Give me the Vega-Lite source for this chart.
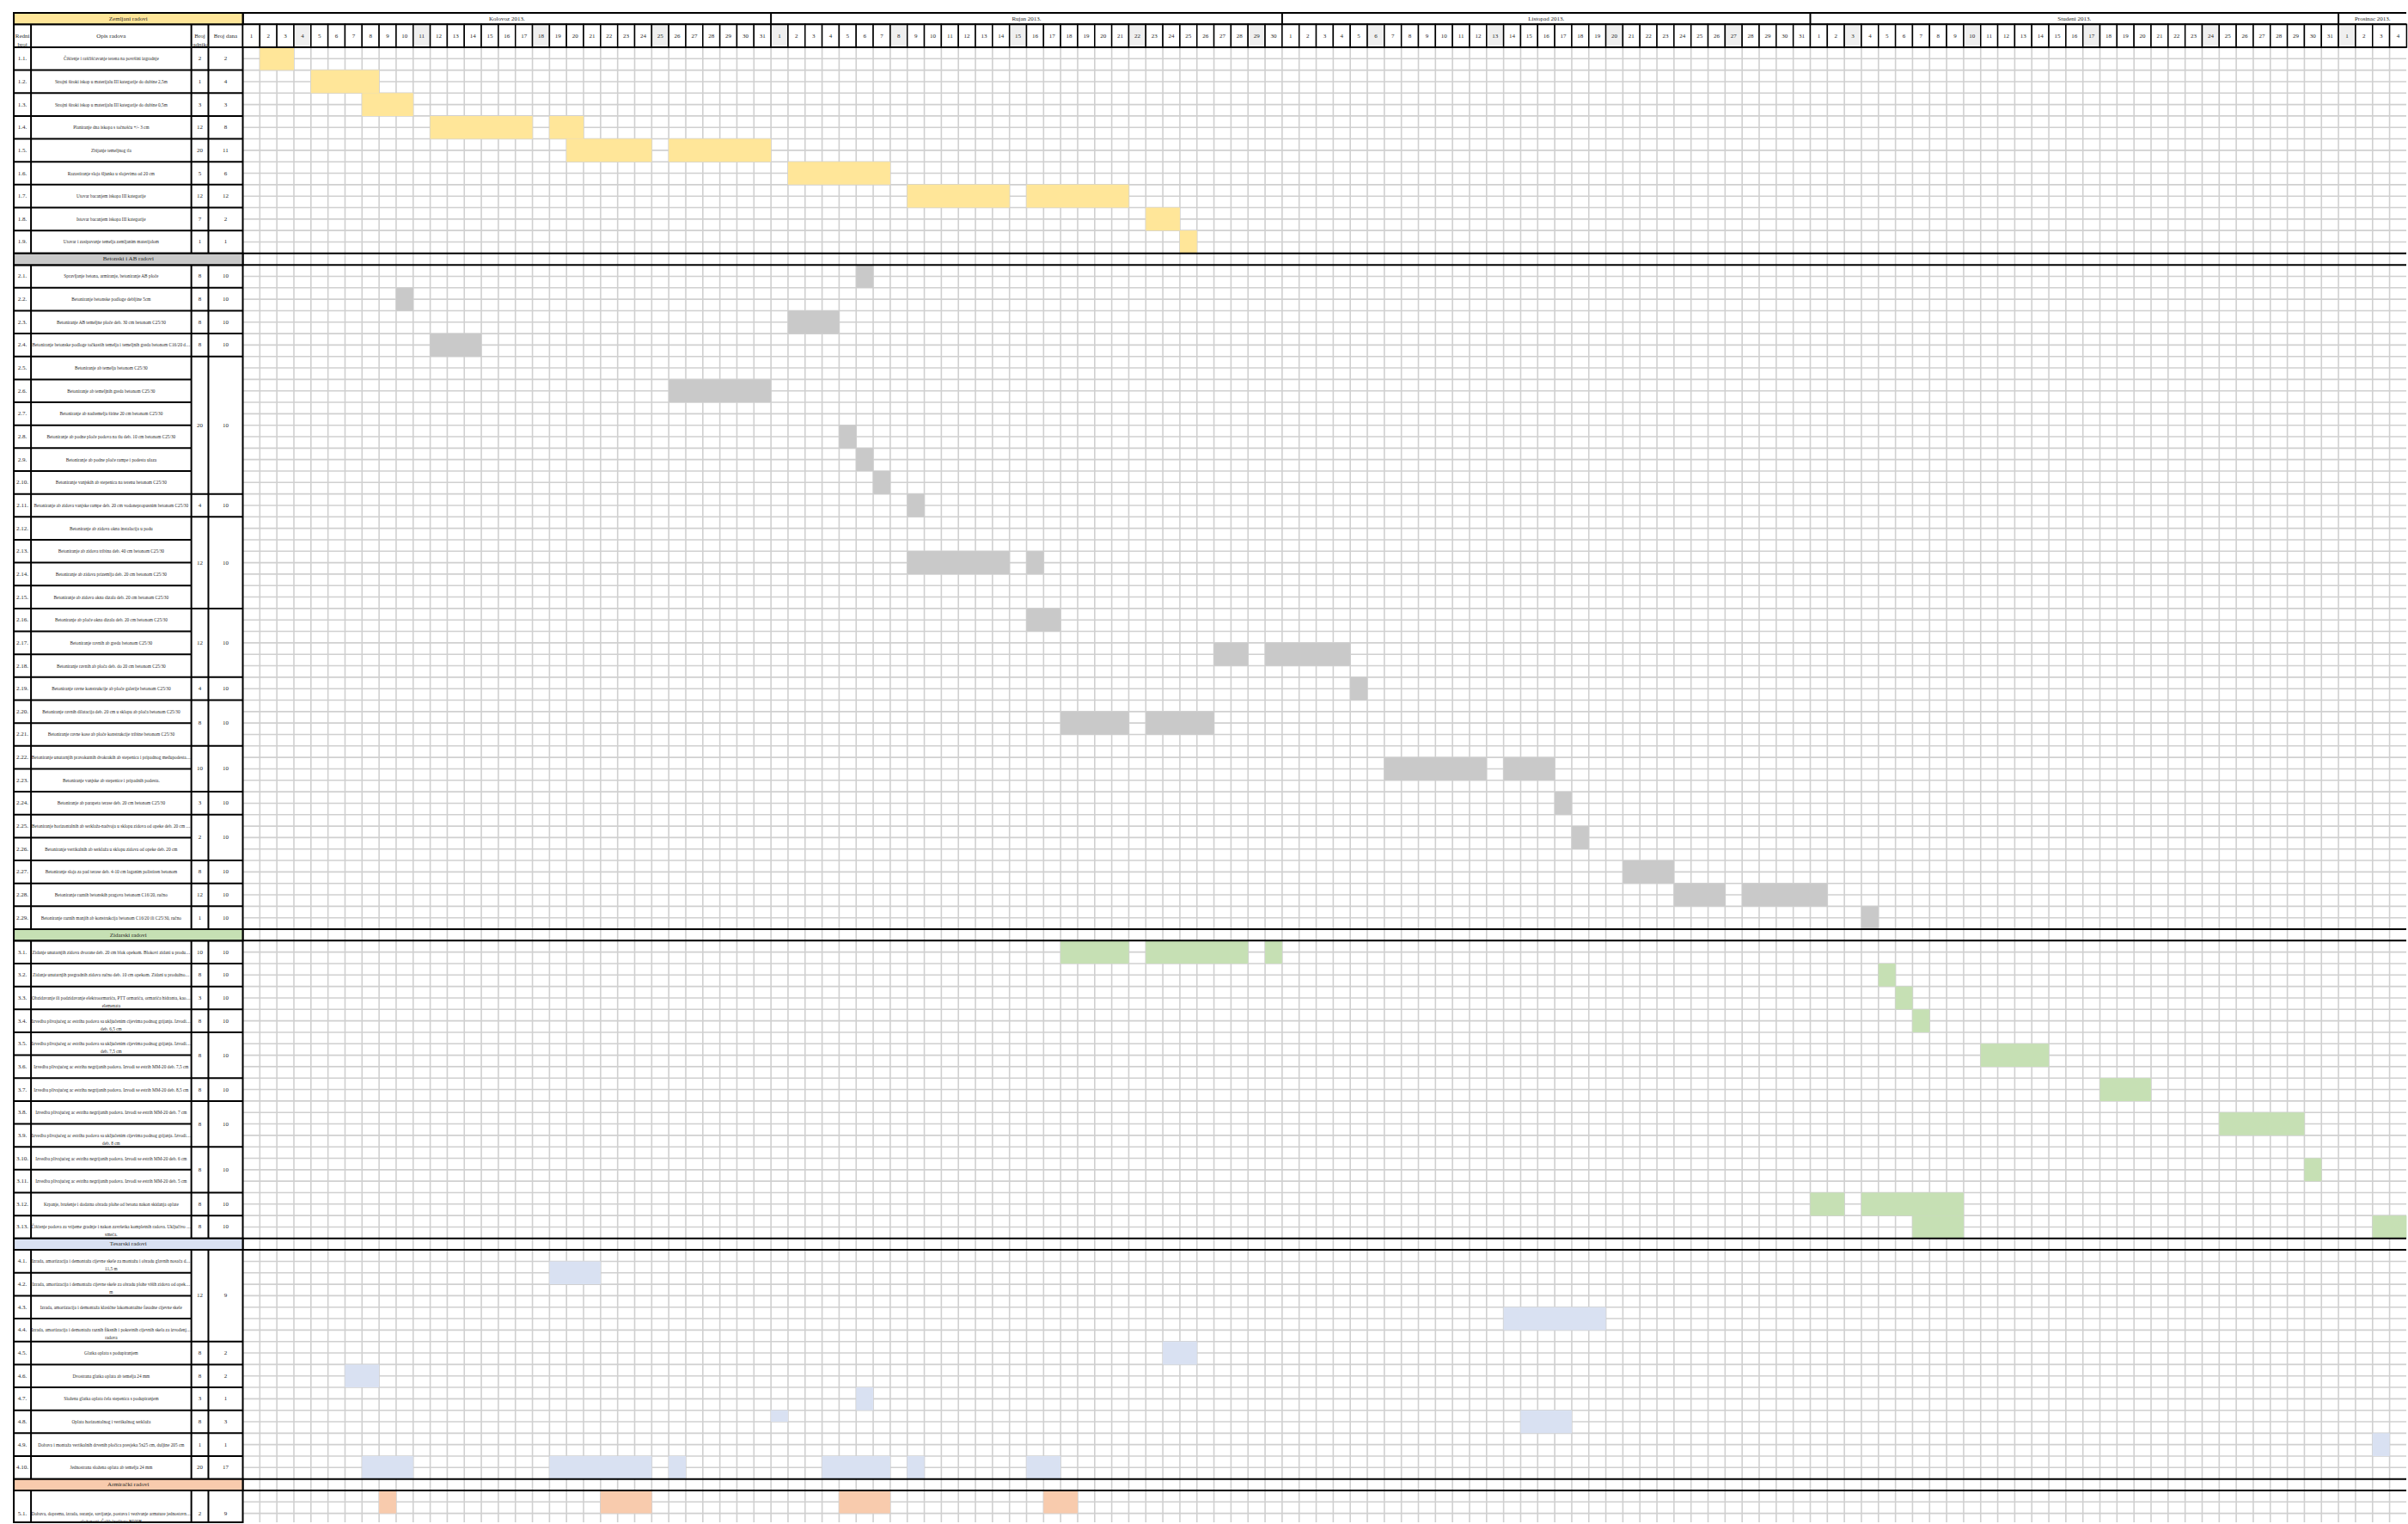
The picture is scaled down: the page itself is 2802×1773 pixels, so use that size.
{
"$schema":"https://vega.github.io/schema/vega-lite/v6.json",
"width":2802,"height":1773,
"autosize":{"type":"fit","contains":"padding"},
"padding":0,
"background":"white",
"config":{"view":{"stroke":null},"axis":{"disable":true},"text":{"font":"Liberation Serif","color":"#2b2b2b"}},
"datasets":{
"sheetlines":[{"L":4},{"L":5},{"L":6},{"L":7},{"L":8},{"L":9},{"L":10},{"L":11},{"L":12},{"L":13},{"L":14},{"L":15},{"L":16},{"L":17},{"L":18},{"L":19},{"L":20},{"L":23},{"L":24},{"L":25},{"L":26},{"L":27},{"L":28},{"L":29},{"L":30},{"L":31},{"L":32},{"L":33},{"L":34},{"L":35},{"L":36},{"L":37},{"L":38},{"L":39},{"L":40},{"L":41},{"L":42},{"L":43},{"L":44},{"L":45},{"L":46},{"L":47},{"L":48},{"L":49},{"L":50},{"L":51},{"L":52},{"L":53},{"L":54},{"L":55},{"L":56},{"L":57},{"L":58},{"L":59},{"L":60},{"L":61},{"L":62},{"L":63},{"L":64},{"L":65},{"L":66},{"L":67},{"L":68},{"L":69},{"L":70},{"L":71},{"L":72},{"L":73},{"L":74},{"L":75},{"L":76},{"L":77},{"L":78},{"L":79},{"L":82},{"L":83},{"L":84},{"L":85},{"L":86},{"L":87},{"L":88},{"L":89},{"L":90},{"L":91},{"L":92},{"L":93},{"L":94},{"L":95},{"L":96},{"L":97},{"L":98},{"L":99},{"L":100},{"L":101},{"L":102},{"L":103},{"L":104},{"L":105},{"L":106},{"L":109},{"L":110},{"L":111},{"L":112},{"L":113},{"L":114},{"L":115},{"L":116},{"L":117},{"L":118},{"L":119},{"L":120},{"L":121},{"L":122},{"L":123},{"L":124},{"L":125},{"L":126},{"L":127},{"L":130},{"L":131}],
"days":[
{"m":"Kolovoz 2013.","n":1,"c":0,"c2":1},{"m":"Kolovoz 2013.","n":2,"c":1,"c2":2},{"m":"Kolovoz 2013.","n":3,"c":2,"c2":3},{"m":"Kolovoz 2013.","n":4,"c":3,"c2":4,"s":1},{"m":"Kolovoz 2013.","n":5,"c":4,"c2":5},{"m":"Kolovoz 2013.","n":6,"c":5,"c2":6},{"m":"Kolovoz 2013.","n":7,"c":6,"c2":7},{"m":"Kolovoz 2013.","n":8,"c":7,"c2":8},{"m":"Kolovoz 2013.","n":9,"c":8,"c2":9},{"m":"Kolovoz 2013.","n":10,"c":9,"c2":10},{"m":"Kolovoz 2013.","n":11,"c":10,"c2":11,"s":1},{"m":"Kolovoz 2013.","n":12,"c":11,"c2":12},{"m":"Kolovoz 2013.","n":13,"c":12,"c2":13},{"m":"Kolovoz 2013.","n":14,"c":13,"c2":14},{"m":"Kolovoz 2013.","n":15,"c":14,"c2":15},{"m":"Kolovoz 2013.","n":16,"c":15,"c2":16},{"m":"Kolovoz 2013.","n":17,"c":16,"c2":17},{"m":"Kolovoz 2013.","n":18,"c":17,"c2":18,"s":1},{"m":"Kolovoz 2013.","n":19,"c":18,"c2":19},{"m":"Kolovoz 2013.","n":20,"c":19,"c2":20},{"m":"Kolovoz 2013.","n":21,"c":20,"c2":21},{"m":"Kolovoz 2013.","n":22,"c":21,"c2":22},{"m":"Kolovoz 2013.","n":23,"c":22,"c2":23},{"m":"Kolovoz 2013.","n":24,"c":23,"c2":24},{"m":"Kolovoz 2013.","n":25,"c":24,"c2":25,"s":1},{"m":"Kolovoz 2013.","n":26,"c":25,"c2":26},{"m":"Kolovoz 2013.","n":27,"c":26,"c2":27},{"m":"Kolovoz 2013.","n":28,"c":27,"c2":28},{"m":"Kolovoz 2013.","n":29,"c":28,"c2":29},{"m":"Kolovoz 2013.","n":30,"c":29,"c2":30},{"m":"Kolovoz 2013.","n":31,"c":30,"c2":31},
{"m":"Rujan 2013.","n":1,"c":31,"c2":32,"s":1},{"m":"Rujan 2013.","n":2,"c":32,"c2":33},{"m":"Rujan 2013.","n":3,"c":33,"c2":34},{"m":"Rujan 2013.","n":4,"c":34,"c2":35},{"m":"Rujan 2013.","n":5,"c":35,"c2":36},{"m":"Rujan 2013.","n":6,"c":36,"c2":37},{"m":"Rujan 2013.","n":7,"c":37,"c2":38},{"m":"Rujan 2013.","n":8,"c":38,"c2":39,"s":1},{"m":"Rujan 2013.","n":9,"c":39,"c2":40},{"m":"Rujan 2013.","n":10,"c":40,"c2":41},{"m":"Rujan 2013.","n":11,"c":41,"c2":42},{"m":"Rujan 2013.","n":12,"c":42,"c2":43},{"m":"Rujan 2013.","n":13,"c":43,"c2":44},{"m":"Rujan 2013.","n":14,"c":44,"c2":45},{"m":"Rujan 2013.","n":15,"c":45,"c2":46,"s":1},{"m":"Rujan 2013.","n":16,"c":46,"c2":47},{"m":"Rujan 2013.","n":17,"c":47,"c2":48},{"m":"Rujan 2013.","n":18,"c":48,"c2":49},{"m":"Rujan 2013.","n":19,"c":49,"c2":50},{"m":"Rujan 2013.","n":20,"c":50,"c2":51},{"m":"Rujan 2013.","n":21,"c":51,"c2":52},{"m":"Rujan 2013.","n":22,"c":52,"c2":53,"s":1},{"m":"Rujan 2013.","n":23,"c":53,"c2":54},{"m":"Rujan 2013.","n":24,"c":54,"c2":55},{"m":"Rujan 2013.","n":25,"c":55,"c2":56},{"m":"Rujan 2013.","n":26,"c":56,"c2":57},{"m":"Rujan 2013.","n":27,"c":57,"c2":58},{"m":"Rujan 2013.","n":28,"c":58,"c2":59},{"m":"Rujan 2013.","n":29,"c":59,"c2":60,"s":1},{"m":"Rujan 2013.","n":30,"c":60,"c2":61},
{"m":"Listopad 2013.","n":1,"c":61,"c2":62},{"m":"Listopad 2013.","n":2,"c":62,"c2":63},{"m":"Listopad 2013.","n":3,"c":63,"c2":64},{"m":"Listopad 2013.","n":4,"c":64,"c2":65},{"m":"Listopad 2013.","n":5,"c":65,"c2":66},{"m":"Listopad 2013.","n":6,"c":66,"c2":67,"s":1},{"m":"Listopad 2013.","n":7,"c":67,"c2":68},{"m":"Listopad 2013.","n":8,"c":68,"c2":69},{"m":"Listopad 2013.","n":9,"c":69,"c2":70},{"m":"Listopad 2013.","n":10,"c":70,"c2":71},{"m":"Listopad 2013.","n":11,"c":71,"c2":72},{"m":"Listopad 2013.","n":12,"c":72,"c2":73},{"m":"Listopad 2013.","n":13,"c":73,"c2":74,"s":1},{"m":"Listopad 2013.","n":14,"c":74,"c2":75},{"m":"Listopad 2013.","n":15,"c":75,"c2":76},{"m":"Listopad 2013.","n":16,"c":76,"c2":77},{"m":"Listopad 2013.","n":17,"c":77,"c2":78},{"m":"Listopad 2013.","n":18,"c":78,"c2":79},{"m":"Listopad 2013.","n":19,"c":79,"c2":80},{"m":"Listopad 2013.","n":20,"c":80,"c2":81,"s":1},{"m":"Listopad 2013.","n":21,"c":81,"c2":82},{"m":"Listopad 2013.","n":22,"c":82,"c2":83},{"m":"Listopad 2013.","n":23,"c":83,"c2":84},{"m":"Listopad 2013.","n":24,"c":84,"c2":85},{"m":"Listopad 2013.","n":25,"c":85,"c2":86},{"m":"Listopad 2013.","n":26,"c":86,"c2":87},{"m":"Listopad 2013.","n":27,"c":87,"c2":88,"s":1},{"m":"Listopad 2013.","n":28,"c":88,"c2":89},{"m":"Listopad 2013.","n":29,"c":89,"c2":90},{"m":"Listopad 2013.","n":30,"c":90,"c2":91},{"m":"Listopad 2013.","n":31,"c":91,"c2":92},
{"m":"Studeni 2013.","n":1,"c":92,"c2":93},{"m":"Studeni 2013.","n":2,"c":93,"c2":94},{"m":"Studeni 2013.","n":3,"c":94,"c2":95,"s":1},{"m":"Studeni 2013.","n":4,"c":95,"c2":96},{"m":"Studeni 2013.","n":5,"c":96,"c2":97},{"m":"Studeni 2013.","n":6,"c":97,"c2":98},{"m":"Studeni 2013.","n":7,"c":98,"c2":99},{"m":"Studeni 2013.","n":8,"c":99,"c2":100},{"m":"Studeni 2013.","n":9,"c":100,"c2":101},{"m":"Studeni 2013.","n":10,"c":101,"c2":102,"s":1},{"m":"Studeni 2013.","n":11,"c":102,"c2":103},{"m":"Studeni 2013.","n":12,"c":103,"c2":104},{"m":"Studeni 2013.","n":13,"c":104,"c2":105},{"m":"Studeni 2013.","n":14,"c":105,"c2":106},{"m":"Studeni 2013.","n":15,"c":106,"c2":107},{"m":"Studeni 2013.","n":16,"c":107,"c2":108},{"m":"Studeni 2013.","n":17,"c":108,"c2":109,"s":1},{"m":"Studeni 2013.","n":18,"c":109,"c2":110},{"m":"Studeni 2013.","n":19,"c":110,"c2":111},{"m":"Studeni 2013.","n":20,"c":111,"c2":112},{"m":"Studeni 2013.","n":21,"c":112,"c2":113},{"m":"Studeni 2013.","n":22,"c":113,"c2":114},{"m":"Studeni 2013.","n":23,"c":114,"c2":115},{"m":"Studeni 2013.","n":24,"c":115,"c2":116,"s":1},{"m":"Studeni 2013.","n":25,"c":116,"c2":117},{"m":"Studeni 2013.","n":26,"c":117,"c2":118},{"m":"Studeni 2013.","n":27,"c":118,"c2":119},{"m":"Studeni 2013.","n":28,"c":119,"c2":120},{"m":"Studeni 2013.","n":29,"c":120,"c2":121},{"m":"Studeni 2013.","n":30,"c":121,"c2":122},{"m":"Studeni 2013.","n":31,"c":122,"c2":123},
{"m":"Prosinac 2013.","n":1,"c":123,"c2":124,"s":1},{"m":"Prosinac 2013.","n":2,"c":124,"c2":125},{"m":"Prosinac 2013.","n":3,"c":125,"c2":126},{"m":"Prosinac 2013.","n":4,"c":126,"c2":127}
],
"sections":[
{"sec":"Zemljani radovi","L0":0,"L1":1},
{"sec":"Betonski i AB radovi","L0":21,"L1":22},
{"sec":"Zidarski radovi","L0":80,"L1":81},
{"sec":"Tesarski radovi","L0":107,"L1":108},
{"sec":"Armirački radovi","L0":128,"L1":129}
],
"tasks":[
{"id":"1.1.","opis":"Čišćenje i raščišćavanje terena na površini izgradnje","L0":3,"L1":5},
{"id":"1.2.","opis":"Strojni široki iskop u materijalu III kategorije do dubine 2,5m","L0":5,"L1":7},
{"id":"1.3.","opis":"Strojni široki iskop u materijalu III kategorije do dubine 0,5m","L0":7,"L1":9},
{"id":"1.4.","opis":"Planiranje dna iskopa s točnošću +/- 3 cm","L0":9,"L1":11},
{"id":"1.5.","opis":"Zbijanje temeljnog tla","L0":11,"L1":13},
{"id":"1.6.","opis":"Razastiranje sloja šljunka u slojevima od 20 cm","L0":13,"L1":15},
{"id":"1.7.","opis":"Utovar bacanjem iskopa III kategorije","L0":15,"L1":17},
{"id":"1.8.","opis":"Istovar bacanjem iskopa III kategorije","L0":17,"L1":19},
{"id":"1.9.","opis":"Utovar i zasipavanje temelja zemljanim materijalom","L0":19,"L1":21},
{"id":"2.1.","opis":"Spravljanje betona, armiranje, betoniranje AB ploče","L0":22,"L1":24},
{"id":"2.2.","opis":"Betoniranje betonske podloge debljine 5cm","L0":24,"L1":26},
{"id":"2.3.","opis":"Betoniranje AB temeljne ploče deb. 30 cm betonom C25/30","L0":26,"L1":28},
{"id":"2.4.","opis":"Betoniranje betonske podloge točkastih temelja i temeljnih greda betonom C16/20 deb. 8 cm","L0":28,"L1":30},
{"id":"2.5.","opis":"Betoniranje ab temelja betonom C25/30","L0":30,"L1":32},
{"id":"2.6.","opis":"Betoniranje ab temeljnih greda betonom C25/30","L0":32,"L1":34},
{"id":"2.7.","opis":"Betoniranje ab nadtemelja širine 20 cm betonom C25/30","L0":34,"L1":36},
{"id":"2.8.","opis":"Betoniranje ab podne ploče podova na tlu deb. 10 cm betonom C25/30","L0":36,"L1":38},
{"id":"2.9.","opis":"Betoniranje ab podne ploče rampe i podesta ulaza","L0":38,"L1":40},
{"id":"2.10.","opis":"Betoniranje vanjskih ab stepenica na terenu betonom C25/30","L0":40,"L1":42},
{"id":"2.11.","opis":"Betoniranje ab zidova vanjske rampe deb. 20 cm vodonepropusnim betonom C25/30","L0":42,"L1":44},
{"id":"2.12.","opis":"Betoniranje ab zidova okna instalacija u podu","L0":44,"L1":46},
{"id":"2.13.","opis":"Betoniranje ab zidova tribina deb. 40 cm betonom C25/30","L0":46,"L1":48},
{"id":"2.14.","opis":"Betoniranje ab zidova prizemlja deb. 20 cm betonom C25/30","L0":48,"L1":50},
{"id":"2.15.","opis":"Betoniranje ab zidova okna dizala deb. 20 cm betonom C25/30","L0":50,"L1":52},
{"id":"2.16.","opis":"Betoniranje ab ploče okna dizala deb. 20 cm betonom C25/30","L0":52,"L1":54},
{"id":"2.17.","opis":"Betoniranje ravnih ab greda betonom C25/30","L0":54,"L1":56},
{"id":"2.18.","opis":"Betoniranje ravnih ab ploča deb. do 20 cm betonom C25/30","L0":56,"L1":58},
{"id":"2.19.","opis":"Betoniranje ravne konstrukcije ab ploče galerije betonom C25/30","L0":58,"L1":60},
{"id":"2.20.","opis":"Betoniranje ravnih dilatacija deb. 20 cm u sklopu ab ploča betonom C25/30","L0":60,"L1":62},
{"id":"2.21.","opis":"Betoniranje ravne kose ab ploče konstrukcije tribine betonom C25/30","L0":62,"L1":64},
{"id":"2.22.","opis":"Betoniranje unutarnjih pravokutnih dvokrakih ab stepenica i pripadnog međupodesta betonom C25/30","L0":64,"L1":66},
{"id":"2.23.","opis":"Betoniranje vanjske ab stepenice i pripadnih podesta.","L0":66,"L1":68},
{"id":"2.24.","opis":"Betoniranje ab parapeta terase deb. 20 cm betonom C25/30","L0":68,"L1":70},
{"id":"2.25.","opis":"Betoniranje horizontalnih ab serklaža-nadvoja u sklopu zidova od opeke deb. 20 cm betonom C25/30","L0":70,"L1":72},
{"id":"2.26.","opis":"Betoniranje vertikalnih ab serklaža u sklopu zidova od opeke deb. 20 cm","L0":72,"L1":74},
{"id":"2.27.","opis":"Betoniranje sloja za pad terase deb. 4-10 cm laganim polistiren betonom","L0":74,"L1":76},
{"id":"2.28.","opis":"Betoniranje raznih betonskih pragova betonom C16/20, ručno","L0":76,"L1":78},
{"id":"2.29.","opis":"Betoniranje raznih manjih ab konstrukcija betonom C16/20 ili C25/30, ručno","L0":78,"L1":80},
{"id":"3.1.","opis":"Zidanje unutarnjih zidova dvorane deb. 20 cm blok opekom. Blokovi zidani u produžnom mortu MM-5.","L0":81,"L1":83},
{"id":"3.2.","opis":"Zidanje unutarnjih pregradnih zidova ručno deb. 10 cm opekom. Zidani u produžnom mortu MM-5","L0":83,"L1":85},
{"id":"3.3.","opis":"Obzidavanje ili podzidavanje elektroormarića, PTT ormarića, ormarića hidranta, kao i nekih sličnih\nelemenata","L0":85,"L1":87},
{"id":"3.4.","opis":"Izvedba plivajućeg ac estriha podova sa uključenim cijevima podnog grijanja. Izvodi se estrih MM-20\ndeb. 6,5 cm","L0":87,"L1":89},
{"id":"3.5.","opis":"Izvedba plivajućeg ac estriha podova sa uključenim cijevima podnog grijanja. Izvodi se estrih MM-20\ndeb. 7,5 cm","L0":89,"L1":91},
{"id":"3.6.","opis":"Izvedba plivajućeg ac estriha negrijanih podova. Izvodi se estrih MM-20 deb. 7,5 cm","L0":91,"L1":93},
{"id":"3.7.","opis":"Izvedba plivajućeg ac estriha negrijanih podova. Izvodi se estrih MM-20 deb. 8,5 cm","L0":93,"L1":95},
{"id":"3.8.","opis":"Izvedba plivajućeg ac estriha negrijanih podova. Izvodi se estrih MM-20 deb. 7 cm","L0":95,"L1":97},
{"id":"3.9.","opis":"Izvedba plivajućeg ac estriha podova sa uključenim cijevima podnog grijanja. Izvodi se estrih MM-20\ndeb. 8 cm","L0":97,"L1":99},
{"id":"3.10.","opis":"Izvedba plivajućeg ac estriha negrijanih podova. Izvodi se estrih MM-20 deb. 6 cm","L0":99,"L1":101},
{"id":"3.11.","opis":"Izvedba plivajućeg ac estriha negrijanih podova. Izvodi se estrih MM-20 deb. 5 cm","L0":101,"L1":103},
{"id":"3.12.","opis":"Krpanje, brušenje i dodatna obrada plohe od betona nakon skidanja oplate","L0":103,"L1":105},
{"id":"3.13.","opis":"Čišćenje podova za vrijeme gradnje i nakon završetka kompletnih radova. Uključivo odvoz šute i\nsmeća.","L0":105,"L1":107},
{"id":"4.1.","opis":"Izrada, amortizacija i demontaža cijevne skele za montažu i obradu glavnih nosača dvorane od 9 m do\n11,5 m","L0":108,"L1":110},
{"id":"4.2.","opis":"Izrada, amortizacija i demontaža cijevne skele za obradu plohe viših zidova od opeke. Skele visine do 8\nm","L0":110,"L1":112},
{"id":"4.3.","opis":"Izrada, amortizacija i demontaža klasične lakomontažne fasadne cijevne skele","L0":112,"L1":114},
{"id":"4.4.","opis":"Izrada, amortizacija i demontaža raznih fiksnih i pokretnih cijevnih skela za izvođenje građevinskih\nradova","L0":114,"L1":116},
{"id":"4.5.","opis":"Glatka oplata s podupiranjem","L0":116,"L1":118},
{"id":"4.6.","opis":"Dvostrana glatka oplata ab temelja 24 mm","L0":118,"L1":120},
{"id":"4.7.","opis":"Složena glatka oplata čela stepenica s podupiranjem","L0":120,"L1":122},
{"id":"4.8.","opis":"Oplata horizontalnog i vertikalnog serklaža","L0":122,"L1":124},
{"id":"4.9.","opis":"Dobava i montaža vertikalnih drvenih pločica presjeka 5x25 cm, duljine 205 cm","L0":124,"L1":126},
{"id":"4.10.","opis":"Jednostrana složena oplata ab temelja 24 mm","L0":126,"L1":128},
{"id":"5.1.","opis":"Dobava, doprema, izrada, rezanje, savijanje, postava i vezivanje armature jednostavne i srednje\nsloženosti. Čelik kvalitete B500B","L0":129,"L1":133}
],
"crew":[
{"g":1,"r":"2","d":"2","L0":3,"L1":5},{"g":2,"r":"1","d":"4","L0":5,"L1":7},{"g":3,"r":"3","d":"3","L0":7,"L1":9},{"g":4,"r":"12","d":"8","L0":9,"L1":11},{"g":5,"r":"20","d":"11","L0":11,"L1":13},{"g":6,"r":"5","d":"6","L0":13,"L1":15},{"g":7,"r":"12","d":"12","L0":15,"L1":17},{"g":8,"r":"7","d":"2","L0":17,"L1":19},{"g":9,"r":"1","d":"1","L0":19,"L1":21},
{"g":10,"r":"8","d":"10","L0":22,"L1":24},{"g":11,"r":"8","d":"10","L0":24,"L1":26},{"g":12,"r":"8","d":"10","L0":26,"L1":28},{"g":13,"r":"8","d":"10","L0":28,"L1":30},{"g":14,"r":"20","d":"10","L0":30,"L1":42},{"g":15,"r":"4","d":"10","L0":42,"L1":44},{"g":16,"r":"12","d":"10","L0":44,"L1":52},{"g":17,"r":"12","d":"10","L0":52,"L1":58},{"g":18,"r":"4","d":"10","L0":58,"L1":60},{"g":19,"r":"8","d":"10","L0":60,"L1":64},{"g":20,"r":"10","d":"10","L0":64,"L1":68},{"g":21,"r":"3","d":"10","L0":68,"L1":70},{"g":22,"r":"2","d":"10","L0":70,"L1":74},{"g":23,"r":"8","d":"10","L0":74,"L1":76},{"g":24,"r":"12","d":"10","L0":76,"L1":78},{"g":25,"r":"1","d":"10","L0":78,"L1":80},
{"g":26,"r":"10","d":"10","L0":81,"L1":83},{"g":27,"r":"8","d":"10","L0":83,"L1":85},{"g":28,"r":"3","d":"10","L0":85,"L1":87},{"g":29,"r":"8","d":"10","L0":87,"L1":89},{"g":30,"r":"8","d":"10","L0":89,"L1":93},{"g":31,"r":"8","d":"10","L0":93,"L1":95},{"g":32,"r":"8","d":"10","L0":95,"L1":99},{"g":33,"r":"8","d":"10","L0":99,"L1":103},{"g":34,"r":"8","d":"10","L0":103,"L1":105},{"g":35,"r":"8","d":"10","L0":105,"L1":107},
{"g":36,"r":"12","d":"9","L0":108,"L1":116},{"g":37,"r":"8","d":"2","L0":116,"L1":118},{"g":38,"r":"8","d":"2","L0":118,"L1":120},{"g":39,"r":"3","d":"1","L0":120,"L1":122},{"g":40,"r":"8","d":"3","L0":122,"L1":124},{"g":41,"r":"1","d":"1","L0":124,"L1":126},{"g":42,"r":"20","d":"17","L0":126,"L1":128},
{"g":43,"r":"2","d":"9","L0":129,"L1":133}
],
"bars":[
{"sec":"Zemljani radovi","id":"1.1.","a":1,"b":3,"L0":3,"L1":5},
{"sec":"Zemljani radovi","id":"1.2.","a":4,"b":8,"L0":5,"L1":7},
{"sec":"Zemljani radovi","id":"1.3.","a":7,"b":10,"L0":7,"L1":9},
{"sec":"Zemljani radovi","id":"1.4.","a":11,"b":17,"L0":9,"L1":11},
{"sec":"Zemljani radovi","id":"1.4.","a":18,"b":20,"L0":9,"L1":11},
{"sec":"Zemljani radovi","id":"1.5.","a":19,"b":24,"L0":11,"L1":13},
{"sec":"Zemljani radovi","id":"1.5.","a":25,"b":31,"L0":11,"L1":13},
{"sec":"Zemljani radovi","id":"1.6.","a":32,"b":38,"L0":13,"L1":15},
{"sec":"Zemljani radovi","id":"1.7.","a":39,"b":45,"L0":15,"L1":17},
{"sec":"Zemljani radovi","id":"1.7.","a":46,"b":52,"L0":15,"L1":17},
{"sec":"Zemljani radovi","id":"1.8.","a":53,"b":55,"L0":17,"L1":19},
{"sec":"Zemljani radovi","id":"1.9.","a":55,"b":56,"L0":19,"L1":21},
{"sec":"Betonski i AB radovi","id":"2.1.","a":36,"b":37,"L0":22,"L1":24},
{"sec":"Betonski i AB radovi","id":"2.2.","a":9,"b":10,"L0":24,"L1":26},
{"sec":"Betonski i AB radovi","id":"2.3.","a":32,"b":35,"L0":26,"L1":28},
{"sec":"Betonski i AB radovi","id":"2.4.","a":11,"b":14,"L0":28,"L1":30},
{"sec":"Betonski i AB radovi","id":"2.6.","a":25,"b":31,"L0":32,"L1":34},
{"sec":"Betonski i AB radovi","id":"2.8.","a":35,"b":36,"L0":36,"L1":38},
{"sec":"Betonski i AB radovi","id":"2.9.","a":36,"b":37,"L0":38,"L1":40},
{"sec":"Betonski i AB radovi","id":"2.10.","a":37,"b":38,"L0":40,"L1":42},
{"sec":"Betonski i AB radovi","id":"2.11.","a":39,"b":40,"L0":42,"L1":44},
{"sec":"Betonski i AB radovi","id":"2.12.-2.15.","a":39,"b":45,"L0":47,"L1":49},
{"sec":"Betonski i AB radovi","id":"2.12.-2.15.","a":46,"b":47,"L0":47,"L1":49},
{"sec":"Betonski i AB radovi","id":"2.16.","a":46,"b":48,"L0":52,"L1":54},
{"sec":"Betonski i AB radovi","id":"2.17.","a":57,"b":59,"L0":55,"L1":57},
{"sec":"Betonski i AB radovi","id":"2.17.","a":60,"b":65,"L0":55,"L1":57},
{"sec":"Betonski i AB radovi","id":"2.19.","a":65,"b":66,"L0":58,"L1":60},
{"sec":"Betonski i AB radovi","id":"2.20.-2.21.","a":48,"b":52,"L0":61,"L1":63},
{"sec":"Betonski i AB radovi","id":"2.20.-2.21.","a":53,"b":57,"L0":61,"L1":63},
{"sec":"Betonski i AB radovi","id":"2.22.-2.23.","a":67,"b":73,"L0":65,"L1":67},
{"sec":"Betonski i AB radovi","id":"2.22.-2.23.","a":74,"b":77,"L0":65,"L1":67},
{"sec":"Betonski i AB radovi","id":"2.24.","a":77,"b":78,"L0":68,"L1":70},
{"sec":"Betonski i AB radovi","id":"2.25.-2.26.","a":78,"b":79,"L0":71,"L1":73},
{"sec":"Betonski i AB radovi","id":"2.27.","a":81,"b":84,"L0":74,"L1":76},
{"sec":"Betonski i AB radovi","id":"2.28.","a":84,"b":87,"L0":76,"L1":78},
{"sec":"Betonski i AB radovi","id":"2.28.","a":88,"b":93,"L0":76,"L1":78},
{"sec":"Betonski i AB radovi","id":"2.29.","a":95,"b":96,"L0":78,"L1":80},
{"sec":"Zidarski radovi","id":"3.1.","a":48,"b":52,"L0":81,"L1":83},
{"sec":"Zidarski radovi","id":"3.1.","a":53,"b":59,"L0":81,"L1":83},
{"sec":"Zidarski radovi","id":"3.1.","a":60,"b":61,"L0":81,"L1":83},
{"sec":"Zidarski radovi","id":"3.2.","a":96,"b":97,"L0":83,"L1":85},
{"sec":"Zidarski radovi","id":"3.3.","a":97,"b":98,"L0":85,"L1":87},
{"sec":"Zidarski radovi","id":"3.4.","a":98,"b":99,"L0":87,"L1":89},
{"sec":"Zidarski radovi","id":"3.5.-3.6.","a":102,"b":106,"L0":90,"L1":92},
{"sec":"Zidarski radovi","id":"3.7.","a":109,"b":112,"L0":93,"L1":95},
{"sec":"Zidarski radovi","id":"3.8.-3.9.","a":116,"b":121,"L0":96,"L1":98},
{"sec":"Zidarski radovi","id":"3.10.-3.11.","a":121,"b":122,"L0":100,"L1":102},
{"sec":"Zidarski radovi","id":"3.12.","a":92,"b":94,"L0":103,"L1":105},
{"sec":"Zidarski radovi","id":"3.12.","a":95,"b":101,"L0":103,"L1":105},
{"sec":"Zidarski radovi","id":"3.13.","a":98,"b":101,"L0":105,"L1":107},
{"sec":"Zidarski radovi","id":"3.13.","a":125,"b":127,"L0":105,"L1":107},
{"sec":"Tesarski radovi","id":"4.1.-4.2.","a":18,"b":21,"L0":109,"L1":111},
{"sec":"Tesarski radovi","id":"4.3.-4.4.","a":74,"b":80,"L0":113,"L1":115},
{"sec":"Tesarski radovi","id":"4.5.","a":54,"b":56,"L0":116,"L1":118},
{"sec":"Tesarski radovi","id":"4.6.","a":6,"b":8,"L0":118,"L1":120},
{"sec":"Tesarski radovi","id":"4.7.","a":36,"b":37,"L0":120,"L1":122},
{"sec":"Tesarski radovi","id":"4.8.","a":31,"b":32,"L0":122,"L1":123},
{"sec":"Tesarski radovi","id":"4.8.","a":75,"b":78,"L0":122,"L1":124},
{"sec":"Tesarski radovi","id":"4.9.","a":125,"b":126,"L0":124,"L1":126},
{"sec":"Tesarski radovi","id":"4.10.","a":7,"b":10,"L0":126,"L1":128},
{"sec":"Tesarski radovi","id":"4.10.","a":18,"b":24,"L0":126,"L1":128},
{"sec":"Tesarski radovi","id":"4.10.","a":25,"b":26,"L0":126,"L1":128},
{"sec":"Tesarski radovi","id":"4.10.","a":34,"b":38,"L0":126,"L1":128},
{"sec":"Tesarski radovi","id":"4.10.","a":39,"b":40,"L0":126,"L1":128},
{"sec":"Tesarski radovi","id":"4.10.","a":46,"b":48,"L0":126,"L1":128},
{"sec":"Armirački radovi","id":"5.1.","a":8,"b":9,"L0":129,"L1":131},
{"sec":"Armirački radovi","id":"5.1.","a":21,"b":24,"L0":129,"L1":131},
{"sec":"Armirački radovi","id":"5.1.","a":35,"b":38,"L0":129,"L1":131},
{"sec":"Armirački radovi","id":"5.1.","a":47,"b":49,"L0":129,"L1":131}
]
},
"layer":[
{"data":{"name":"sheetlines"},"mark":{"type":"rule","stroke":"#d0d0d0","strokeWidth":1.6},
 "encoding":{"x":{"datum":0,"type":"quantitative","scale":{"domain":[-14.25,126.98],"nice":false,"zero":false},"axis":null},"x2":{"datum":126.98},
  "y":{"field":"L","type":"quantitative","scale":{"domain":[-1.124,131.78],"nice":false,"zero":false,"reverse":true},"axis":null}}},
{"data":{"name":"days"},"mark":{"type":"rule","stroke":"#d0d0d0","strokeWidth":1.6},
 "encoding":{"x":{"field":"c","type":"quantitative","scale":{"domain":[-14.25,126.98],"nice":false,"zero":false}},
  "y":{"datum":3,"type":"quantitative","scale":{"domain":[-1.124,131.78],"nice":false,"zero":false,"reverse":true}},"y2":{"datum":131.78}}},
{"data":{"values":[{}]},"mark":{"type":"rect","fill":"white","stroke":"black","strokeWidth":2},
 "encoding":{"x":{"datum":-13.44,"type":"quantitative","scale":{"domain":[-14.25,126.98],"nice":false,"zero":false}},"x2":{"datum":0},
  "y":{"datum":0,"type":"quantitative","scale":{"domain":[-1.124,131.78],"nice":false,"zero":false,"reverse":true}},"y2":{"datum":131.78}}},
{"data":{"name":"days"},"mark":{"type":"rect","stroke":"black","strokeWidth":1.5},
 "encoding":{"x":{"field":"c","type":"quantitative","scale":{"domain":[-14.25,126.98],"nice":false,"zero":false}},"x2":{"field":"c2"},
  "y":{"datum":1,"type":"quantitative","scale":{"domain":[-1.124,131.78],"nice":false,"zero":false,"reverse":true}},"y2":{"datum":3},
  "fill":{"condition":{"test":"datum.s === 1","value":"#efefef"},"value":"white"}}},
{"data":{"name":"days"},"mark":{"type":"rule","stroke":"black","strokeWidth":2},
 "encoding":{"x":{"aggregate":"min","field":"c","type":"quantitative","scale":{"domain":[-14.25,126.98],"nice":false,"zero":false}},
  "detail":{"field":"m","type":"nominal"},
  "y":{"datum":0,"type":"quantitative","scale":{"domain":[-1.124,131.78],"nice":false,"zero":false,"reverse":true}},"y2":{"datum":1}}},
{"data":{"name":"bars"},"mark":{"type":"rect"},
 "encoding":{"x":{"field":"a","type":"quantitative","scale":{"domain":[-14.25,126.98],"nice":false,"zero":false}},"x2":{"field":"b"},
  "y":{"field":"L0","type":"quantitative","scale":{"domain":[-1.124,131.78],"nice":false,"zero":false,"reverse":true}},"y2":{"field":"L1"},
  "color":{"field":"sec","type":"nominal","legend":null,"scale":{"domain":["Zemljani radovi","Betonski i AB radovi","Zidarski radovi","Tesarski radovi","Armirački radovi"],"range":["#FFE699","#C9C9C9","#C6E0B4","#D9E1F2","#F8CBAD"]}}}},
{"data":{"values":[{"k":-12.43},{"k":-3.02},{"k":-2.02}]},"mark":{"type":"rule","stroke":"black","strokeWidth":2},
 "encoding":{"x":{"field":"k","type":"quantitative","scale":{"domain":[-14.25,126.98],"nice":false,"zero":false}},
  "y":{"datum":1,"type":"quantitative","scale":{"domain":[-1.124,131.78],"nice":false,"zero":false,"reverse":true}},"y2":{"datum":131.78}}},
{"data":{"name":"tasks"},"mark":{"type":"rule","stroke":"black","strokeWidth":2},
 "encoding":{"x":{"datum":-13.44,"type":"quantitative","scale":{"domain":[-14.25,126.98],"nice":false,"zero":false}},"x2":{"datum":-3.02},
  "y":{"field":"L0","type":"quantitative","scale":{"domain":[-1.124,131.78],"nice":false,"zero":false,"reverse":true}}}},
{"data":{"name":"crew"},"mark":{"type":"rule","stroke":"black","strokeWidth":2},
 "encoding":{"x":{"datum":-3.02,"type":"quantitative","scale":{"domain":[-14.25,126.98],"nice":false,"zero":false}},"x2":{"datum":0},
  "y":{"field":"L0","type":"quantitative","scale":{"domain":[-1.124,131.78],"nice":false,"zero":false,"reverse":true}}}},
{"data":{"name":"sections"},"mark":{"type":"rule","stroke":"black","strokeWidth":2},
 "encoding":{"x":{"datum":-13.44,"type":"quantitative","scale":{"domain":[-14.25,126.98],"nice":false,"zero":false}},"x2":{"datum":126.98},
  "y":{"field":"L0","type":"quantitative","scale":{"domain":[-1.124,131.78],"nice":false,"zero":false,"reverse":true}}}},
{"data":{"name":"sections"},"mark":{"type":"rule","stroke":"black","strokeWidth":2},
 "encoding":{"x":{"datum":-13.44,"type":"quantitative","scale":{"domain":[-14.25,126.98],"nice":false,"zero":false}},"x2":{"datum":126.98},
  "y":{"field":"L1","type":"quantitative","scale":{"domain":[-1.124,131.78],"nice":false,"zero":false,"reverse":true}}}},
{"data":{"values":[{}]},"mark":{"type":"rule","stroke":"black","strokeWidth":2},
 "encoding":{"x":{"datum":-13.44,"type":"quantitative","scale":{"domain":[-14.25,126.98],"nice":false,"zero":false}},"x2":{"datum":126.98},
  "y":{"datum":3,"type":"quantitative","scale":{"domain":[-1.124,131.78],"nice":false,"zero":false,"reverse":true}}}},
{"data":{"name":"sections"},"mark":{"type":"rect","stroke":"black","strokeWidth":2},
 "encoding":{"x":{"datum":-13.44,"type":"quantitative","scale":{"domain":[-14.25,126.98],"nice":false,"zero":false}},"x2":{"datum":0},
  "y":{"field":"L0","type":"quantitative","scale":{"domain":[-1.124,131.78],"nice":false,"zero":false,"reverse":true}},"y2":{"field":"L1"},
  "color":{"field":"sec","type":"nominal","legend":null,"scale":{"domain":["Zemljani radovi","Betonski i AB radovi","Zidarski radovi","Tesarski radovi","Armirački radovi"],"range":["#FFE699","#C9C9C9","#C6E0B4","#D9E1F2","#F8CBAD"]}}}},
{"data":{"name":"sections"},"transform":[{"fold":["L0","L1"],"as":["k","v"]}],"mark":{"type":"text","fontSize":7,"align":"center","baseline":"middle"},
 "encoding":{"x":{"datum":-6.72,"type":"quantitative","scale":{"domain":[-14.25,126.98],"nice":false,"zero":false}},
  "y":{"aggregate":"mean","field":"v","type":"quantitative","scale":{"domain":[-1.124,131.78],"nice":false,"zero":false,"reverse":true}},
  "text":{"field":"sec","type":"nominal"}}},
{"data":{"values":[{"t":"Redni\nbroj","k":-12.935},{"t":"Opis radova","k":-7.725},{"t":"Broj\nradnika","k":-2.52},{"t":"Broj dana","k":-1.01}]},"mark":{"type":"text","fontSize":7,"align":"center","baseline":"middle","lineBreak":"\n","lineHeight":10},
 "encoding":{"x":{"field":"k","type":"quantitative","scale":{"domain":[-14.25,126.98],"nice":false,"zero":false}},
  "y":{"datum":2,"type":"quantitative","scale":{"domain":[-1.124,131.78],"nice":false,"zero":false,"reverse":true}},
  "text":{"field":"t","type":"nominal"}}},
{"data":{"name":"tasks"},"transform":[{"fold":["L0","L1"],"as":["k","v"]}],"mark":{"type":"text","fontSize":7,"align":"center","baseline":"middle"},
 "encoding":{"x":{"datum":-12.935,"type":"quantitative","scale":{"domain":[-14.25,126.98],"nice":false,"zero":false}},
  "y":{"aggregate":"mean","field":"v","type":"quantitative","scale":{"domain":[-1.124,131.78],"nice":false,"zero":false,"reverse":true}},
  "text":{"field":"id","type":"nominal"}}},
{"data":{"name":"tasks"},"transform":[{"fold":["L0","L1"],"as":["k","v"]}],"mark":{"type":"text","fontSize":5.3,"align":"center","baseline":"middle","lineBreak":"\n","lineHeight":9,"limit":186},
 "encoding":{"x":{"datum":-7.725,"type":"quantitative","scale":{"domain":[-14.25,126.98],"nice":false,"zero":false}},
  "y":{"aggregate":"mean","field":"v","type":"quantitative","scale":{"domain":[-1.124,131.78],"nice":false,"zero":false,"reverse":true}},
  "text":{"field":"opis","type":"nominal"}}},
{"data":{"name":"crew"},"transform":[{"fold":["L0","L1"],"as":["k","v"]}],"mark":{"type":"text","fontSize":7,"align":"center","baseline":"middle"},
 "encoding":{"x":{"datum":-2.52,"type":"quantitative","scale":{"domain":[-14.25,126.98],"nice":false,"zero":false}},
  "y":{"aggregate":"mean","field":"v","type":"quantitative","scale":{"domain":[-1.124,131.78],"nice":false,"zero":false,"reverse":true}},
  "detail":{"field":"g","type":"nominal"},
  "text":{"field":"r","type":"nominal"}}},
{"data":{"name":"crew"},"transform":[{"fold":["L0","L1"],"as":["k","v"]}],"mark":{"type":"text","fontSize":7,"align":"center","baseline":"middle"},
 "encoding":{"x":{"datum":-1.01,"type":"quantitative","scale":{"domain":[-14.25,126.98],"nice":false,"zero":false}},
  "y":{"aggregate":"mean","field":"v","type":"quantitative","scale":{"domain":[-1.124,131.78],"nice":false,"zero":false,"reverse":true}},
  "detail":{"field":"g","type":"nominal"},
  "text":{"field":"d","type":"nominal"}}},
{"data":{"name":"days"},"mark":{"type":"text","fontSize":7,"align":"center","baseline":"middle","dx":9.92},
 "encoding":{"x":{"field":"c","type":"quantitative","scale":{"domain":[-14.25,126.98],"nice":false,"zero":false}},
  "y":{"datum":2,"type":"quantitative","scale":{"domain":[-1.124,131.78],"nice":false,"zero":false,"reverse":true}},
  "text":{"field":"n","type":"nominal"}}},
{"data":{"name":"days"},"mark":{"type":"text","fontSize":7,"align":"center","baseline":"middle","dx":9.92},
 "encoding":{"x":{"aggregate":"mean","field":"c","type":"quantitative","scale":{"domain":[-14.25,126.98],"nice":false,"zero":false}},
  "y":{"datum":0.5,"type":"quantitative","scale":{"domain":[-1.124,131.78],"nice":false,"zero":false,"reverse":true}},
  "text":{"field":"m","type":"nominal"}}}
]
}
